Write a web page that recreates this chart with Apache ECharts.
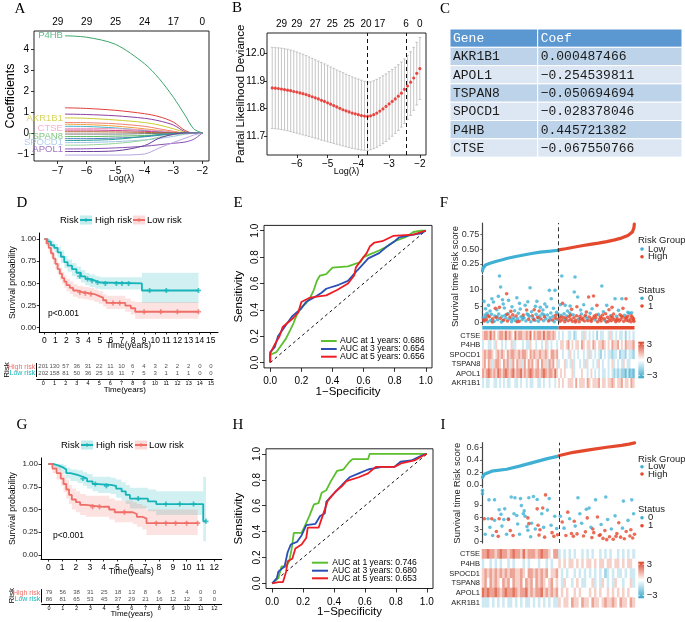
<!DOCTYPE html>
<html><head><meta charset="utf-8">
<script src="https://cdn.jsdelivr.net/npm/echarts@6.0.0/dist/echarts.min.js"></script>
<style>html,body{margin:0;padding:0;background:#fff;}#chart{width:685px;height:622px;}</style>
</head><body><div id="chart"></div>
<script>
// ====================== DATA ======================
// A: LASSO coefficient paths (values read at these log(lambda) knots)
const lassoLambda = [-6.75,-6,-5,-4,-3.5,-3,-2.6,-2.3,-2];
const lassoPaths = [
  [4.63,4.56,4.22,3.3,2.6,1.7,0.85,0.2,0],
  [1.2,1.17,1.08,0.92,0.78,0.52,0.12,0,0],
  [0.9,0.88,0.82,0.7,0.58,0.38,0.06,0,0],
  [0.72,0.7,0.62,0.5,0.38,0.2,0.04,0,0],
  [0.5,0.49,0.44,0.32,0.2,0.08,0,0,0],
  [0.42,0.4,0.33,0.2,0.12,0.05,0,0,0],
  [0.32,0.31,0.24,0.12,0.06,0.02,0,0,0],
  [0.22,0.22,0.2,0.15,0.1,0.04,0.01,0,0],
  [0.14,0.14,0.12,0.08,0.04,0.01,0,0,0],
  [0.06,0.06,0.05,0.03,0.01,0,0,0,0],
  [-0.05,-0.05,-0.05,-0.03,-0.02,-0.01,0,0,0],
  [-0.17,-0.17,-0.15,-0.12,-0.08,-0.05,-0.03,-0.01,0],
  [-0.27,-0.27,-0.24,-0.18,-0.11,-0.05,-0.01,0,0],
  [-0.36,-0.35,-0.3,-0.16,-0.08,-0.03,0,0,0],
  [-0.46,-0.45,-0.41,-0.33,-0.26,-0.16,-0.06,-0.02,0],
  [-0.58,-0.57,-0.5,-0.35,-0.2,-0.08,-0.02,0,0],
  [-0.76,-0.75,-0.71,-0.63,-0.56,-0.49,-0.43,-0.3,0],
  [-0.88,-0.88,-0.85,-0.6,-0.25,-0.06,0,0,0],
  [-1.05,-1.05,-1.05,-1.0,-0.72,-0.45,-0.25,-0.1,0]
];
const lassoGeneLabels = ['P4HB','','','AKR1B1','','','','CTSE','','','','TSPAN8','','','SPOCD1','','APOL1','',''];
const lassoTicksX = [-7,-6,-5,-4,-3,-2];
const lassoTicksY = [-1,0,1,2,3,4];
const lassoTopLambda = [-7,-6,-5,-4,-3,-2];
const lassoTopCounts = ['29','29','25','24','17','0'];

// B: cross-validation curve
const cvLambda = [-6.8,-6.7,-6.6,-6.5,-6.4,-6.3,-6.2,-6.1,-6.0,-5.9,-5.8,-5.7,-5.6,-5.5,-5.4,-5.3,-5.2,-5.1,-5.0,-4.9,-4.8,-4.7,-4.6,-4.5,-4.4,-4.3,-4.2,-4.1,-4.0,-3.9,-3.8,-3.7,-3.6,-3.5,-3.4,-3.3,-3.2,-3.1,-3.0,-2.9,-2.8,-2.7,-2.6,-2.5,-2.4,-2.3,-2.2,-2.1,-2.0];
const cvMean = [11.875,11.874,11.873,11.871,11.869,11.867,11.865,11.862,11.86,11.857,
  11.854,11.851,11.847,11.843,11.839,11.835,11.83,11.826,11.821,11.816,
  11.811,11.806,11.801,11.796,11.792,11.788,11.784,11.781,11.778,11.775,
  11.773,11.772,11.774,11.778,11.784,11.791,11.799,11.808,11.817,11.826,
  11.835,11.845,11.856,11.87,11.882,11.896,11.911,11.928,11.945];
const cvUpper = [12.022,12.021,12.02,12.019,12.017,12.015,12.012,12.009,12.005,12.001,
  11.997,11.992,11.987,11.982,11.977,11.972,11.967,11.962,11.957,11.951,
  11.946,11.94,11.935,11.93,11.925,11.92,11.915,11.911,11.907,11.903,
  11.899,11.896,11.897,11.901,11.906,11.912,11.919,11.926,11.934,11.942,
  11.95,11.959,11.969,11.98,11.992,12.006,12.022,12.04,12.058];
const cvLower = [11.728,11.727,11.726,11.724,11.722,11.72,11.717,11.714,11.711,11.708,
  11.705,11.702,11.699,11.696,11.693,11.69,11.686,11.683,11.68,11.677,
  11.674,11.671,11.668,11.665,11.662,11.659,11.656,11.654,11.652,11.65,
  11.649,11.648,11.651,11.655,11.66,11.666,11.673,11.681,11.69,11.7,
  11.71,11.721,11.733,11.746,11.76,11.776,11.794,11.813,11.833];
const cvCutoffs = [-3.7,-2.45];
const cvTicksX = [-6,-5,-4,-3,-2];
const cvTicksY = [11.7,11.8,11.9,12.0];
const cvTopLambda = [-6.5,-6,-5.4,-4.85,-4.3,-3.75,-3.3,-2.45,-2.0];
const cvTopCounts = ['29','29','27','25','25','20','17','6','0'];

// C: coefficient table
const coefHeader = ['Gene','Coef'];
const coefGenes = ['AKR1B1','APOL1','TSPAN8','SPOCD1','P4HB','CTSE'];
const coefValues = ['0.000487466','\u22120.254539811','\u22120.050694694','\u22120.028378046','0.445721382','\u22120.067550766'];

// D / G: Kaplan-Meier (train / test)
const kmGroupNames = ['High risk','Low risk'];
const kmD_teal = [[0,1],[0.3,0.97],[0.6,0.93],[0.9,0.9],[1.2,0.85],[1.5,0.8],[1.8,0.74],[2.1,0.7],[2.5,0.66],[2.9,0.62],[3.3,0.58],[3.7,0.55],[4.1,0.53],[4.6,0.51],[5.0,0.5],[8.8,0.42],[13.9,0.42]];
const kmD_tealUp = [[0,1],[0.3,1],[0.6,0.98],[0.9,0.95],[1.2,0.91],[1.5,0.87],[1.8,0.81],[2.1,0.77],[2.5,0.73],[2.9,0.69],[3.3,0.65],[3.7,0.62],[4.1,0.6],[4.6,0.58],[5.0,0.57],[8.8,0.62],[13.9,0.62]];
const kmD_tealLo = [[0,1],[0.3,0.94],[0.6,0.89],[0.9,0.85],[1.2,0.79],[1.5,0.73],[1.8,0.67],[2.1,0.63],[2.5,0.58],[2.9,0.55],[3.3,0.51],[3.7,0.48],[4.1,0.46],[4.6,0.44],[5.0,0.43],[8.8,0.28],[13.9,0.28]];
const kmD_salmon = [[0,1],[0.2,0.95],[0.4,0.9],[0.6,0.84],[0.8,0.78],[1.0,0.72],[1.2,0.66],[1.4,0.61],[1.6,0.56],[1.8,0.52],[2.0,0.48],[2.3,0.45],[2.6,0.42],[3.0,0.4],[3.5,0.39],[4.0,0.38],[4.5,0.36],[4.9,0.34],[5.3,0.31],[5.6,0.28],[7.3,0.25],[7.8,0.22],[8.2,0.18],[13.9,0.18]];
const kmD_salmonUp = [[0,1],[0.2,0.98],[0.4,0.94],[0.6,0.89],[0.8,0.84],[1.0,0.78],[1.2,0.73],[1.4,0.68],[1.6,0.63],[1.8,0.59],[2.0,0.55],[2.3,0.52],[2.6,0.49],[3.0,0.47],[3.5,0.46],[4.0,0.45],[4.5,0.43],[4.9,0.41],[5.3,0.38],[5.6,0.36],[7.3,0.33],[7.8,0.3],[8.2,0.29],[13.9,0.29]];
const kmD_salmonLo = [[0,1],[0.2,0.92],[0.4,0.86],[0.6,0.79],[0.8,0.72],[1.0,0.66],[1.2,0.6],[1.4,0.54],[1.6,0.49],[1.8,0.45],[2.0,0.41],[2.3,0.38],[2.6,0.35],[3.0,0.33],[3.5,0.32],[4.0,0.31],[4.5,0.29],[4.9,0.27],[5.3,0.24],[5.6,0.21],[7.3,0.18],[7.8,0.15],[8.2,0.1],[13.9,0.1]];
const kmD_tealCens = [[3.2,0.58],[3.9,0.55],[4.3,0.53],[4.8,0.51],[5.5,0.5],[6.5,0.5],[7.0,0.5],[7.6,0.5],[9.5,0.42],[11,0.42],[13.9,0.42]];
const kmD_salmonCens = [[3.2,0.4],[3.7,0.39],[4.2,0.38],[6.2,0.28],[6.8,0.28],[9,0.18],[10.5,0.18],[12,0.18],[13.9,0.18]];

const kmG_teal = [[0,1],[0.4,0.98],[0.8,0.96],[1.1,0.94],[1.3,0.9],[1.6,0.88],[2.1,0.86],[2.5,0.84],[2.8,0.81],[3.2,0.78],[3.6,0.77],[4.5,0.76],[4.9,0.73],[5.3,0.7],[5.6,0.66],[5.9,0.62],[7.2,0.59],[7.8,0.56],[11.2,0.37],[11.4,0.37]];
const kmG_tealUp = [[0,1],[0.4,1],[0.8,1],[1.1,0.99],[1.3,0.96],[1.6,0.94],[2.1,0.93],[2.5,0.91],[2.8,0.89],[3.2,0.86],[3.6,0.86],[4.5,0.85],[4.9,0.83],[5.3,0.8],[5.6,0.77],[5.9,0.74],[7.2,0.72],[7.8,0.7],[11.2,0.86],[11.4,0.86]];
const kmG_tealLo = [[0,1],[0.4,0.95],[0.8,0.92],[1.1,0.89],[1.3,0.84],[1.6,0.81],[2.1,0.79],[2.5,0.76],[2.8,0.73],[3.2,0.7],[3.6,0.68],[4.5,0.67],[4.9,0.63],[5.3,0.6],[5.6,0.56],[5.9,0.51],[7.2,0.48],[7.8,0.44],[11.2,0.15],[11.4,0.15]];
const kmG_salmon = [[0,1],[0.3,0.95],[0.6,0.9],[0.9,0.84],[1.1,0.78],[1.3,0.72],[1.5,0.66],[1.7,0.61],[2.0,0.58],[2.3,0.55],[2.7,0.53],[4.0,0.53],[4.4,0.5],[4.8,0.47],[6.1,0.45],[6.4,0.42],[6.8,0.4],[7.1,0.35],[10.8,0.35]];
const kmG_salmonUp = [[0,1],[0.3,1],[0.6,0.97],[0.9,0.92],[1.1,0.88],[1.3,0.83],[1.5,0.77],[1.7,0.73],[2.0,0.7],[2.3,0.67],[2.7,0.65],[4.0,0.65],[4.4,0.62],[4.8,0.6],[6.1,0.58],[6.4,0.56],[6.8,0.54],[7.1,0.5],[10.8,0.5]];
const kmG_salmonLo = [[0,1],[0.3,0.9],[0.6,0.83],[0.9,0.76],[1.1,0.69],[1.3,0.62],[1.5,0.56],[1.7,0.5],[2.0,0.47],[2.3,0.44],[2.7,0.42],[4.0,0.42],[4.4,0.39],[4.8,0.36],[6.1,0.34],[6.4,0.31],[6.8,0.28],[7.1,0.22],[10.8,0.22]];
const kmG_tealCens = [[2.5,0.84],[3.4,0.78],[4.2,0.76],[6.5,0.62],[8.5,0.56],[9.5,0.56],[10.5,0.56],[11.4,0.37]];
const kmG_salmonCens = [[3.2,0.53],[3.7,0.53],[5.5,0.47],[7.8,0.35],[8.5,0.35],[9.2,0.35],[10,0.35],[10.8,0.35]];
const kmTicksY = [0,0.25,0.5,0.75,1];
const kmTicksD = [0,1,2,3,4,5,6,7,8,9,10,11,12,13,14,15];
const kmTicksG = [0,1,2,3,4,5,6,7,8,9,10,11,12];
const pValueText = 'p<0.001';

// risk tables
const riskRowNames = ['Low risk','High risk'];
const riskTimesD = [0,1,2,3,4,5,6,7,8,9,10,11,12,13,14,15];
const riskHighD = [201,130,57,36,31,22,11,10,6,4,3,2,2,2,0,0];
const riskLowD  = [202,158,81,50,36,25,16,11,7,5,3,1,1,1,0,0];
const riskTimesG = [0,1,2,3,4,5,6,7,8,9,10,11,12];
const riskHighG = [79,56,38,31,25,18,13,8,6,5,4,0,0];
const riskLowG  = [86,81,65,53,45,37,29,21,16,12,12,3,0];

// E / H: time-dependent ROC
const rocYears = [1,3,5];
const aucE = [0.686,0.654,0.656];
const aucH = [0.746,0.680,0.653];
const rocTicks = [0,0.2,0.4,0.6,0.8,1];
const rocE1 = [[0,0],[0,0.06],[0.04,0.08],[0.07,0.13],[0.1,0.18],[0.13,0.25],[0.15,0.3],[0.17,0.36],[0.2,0.42],[0.23,0.45],[0.26,0.5],[0.28,0.55],[0.3,0.62],[0.32,0.66],[0.36,0.67],[0.4,0.72],[0.5,0.73],[0.55,0.75],[0.58,0.76],[0.6,0.8],[0.64,0.82],[0.7,0.85],[0.75,0.88],[0.8,0.92],[0.87,0.95],[0.92,0.99],[0.97,1],[1,1]];
const rocE3 = [[0,0],[0,0.08],[0.03,0.12],[0.05,0.2],[0.08,0.25],[0.11,0.3],[0.14,0.35],[0.2,0.41],[0.23,0.46],[0.29,0.5],[0.33,0.53],[0.36,0.56],[0.44,0.59],[0.5,0.62],[0.53,0.66],[0.56,0.7],[0.6,0.75],[0.63,0.79],[0.7,0.83],[0.75,0.88],[0.8,0.92],[0.83,0.95],[0.92,0.97],[0.97,0.98],[1,1]];
const rocE5 = [[0,0],[0,0.07],[0.03,0.14],[0.06,0.2],[0.08,0.27],[0.12,0.31],[0.15,0.34],[0.18,0.38],[0.2,0.46],[0.25,0.49],[0.3,0.5],[0.36,0.51],[0.43,0.55],[0.5,0.6],[0.54,0.66],[0.55,0.72],[0.58,0.77],[0.62,0.83],[0.64,0.88],[0.67,0.91],[0.72,0.92],[0.79,0.96],[0.92,0.97],[0.97,0.99],[1,1]];
const rocH1 = [[0,0],[0.04,0.04],[0.06,0.13],[0.09,0.13],[0.11,0.17],[0.125,0.26],[0.14,0.39],[0.19,0.39],[0.21,0.44],[0.24,0.52],[0.27,0.61],[0.3,0.62],[0.32,0.7],[0.35,0.72],[0.38,0.79],[0.42,0.87],[0.46,0.88],[0.5,0.94],[0.52,0.96],[0.62,0.96],[0.63,1],[1,1]];
const rocH3 = [[0,0],[0.03,0.04],[0.04,0.09],[0.08,0.13],[0.1,0.24],[0.12,0.3],[0.16,0.32],[0.19,0.37],[0.22,0.45],[0.28,0.46],[0.31,0.52],[0.34,0.54],[0.35,0.63],[0.38,0.67],[0.42,0.72],[0.46,0.77],[0.5,0.82],[0.56,0.85],[0.62,0.88],[0.71,0.9],[0.79,0.9],[0.83,0.94],[0.9,0.95],[0.97,0.99],[1,1]];
const rocH5 = [[0,0],[0.04,0.01],[0.07,0.01],[0.09,0.09],[0.1,0.17],[0.13,0.19],[0.15,0.27],[0.19,0.3],[0.22,0.35],[0.23,0.43],[0.3,0.43],[0.32,0.5],[0.34,0.57],[0.36,0.64],[0.41,0.71],[0.45,0.75],[0.48,0.79],[0.56,0.82],[0.62,0.85],[0.67,0.9],[0.79,0.9],[0.84,0.93],[0.92,0.95],[0.98,0.99],[1,1]];

// F / I: risk score, survival status, heatmap
const riskGroupNames = ['Low','High'];
const statusNames = ['0','1'];
const heatGenes = ['CTSE','P4HB','SPOCD1','TSPAN8','APOL1','AKR1B1'];
const nLowF = 202, nHighF = 201;
const scoreLowF = [[0,0.13],[1,0.17],[3,0.2],[8,0.23],[20,0.26],[35,0.29],[50,0.315],[64,0.34],[85,0.37],[109,0.4],[130,0.425],[153,0.447],[180,0.465],[201,0.48]];
const scoreHighF = [[202,0.485],[220,0.505],[241,0.53],[263,0.555],[285,0.58],[307,0.6],[329,0.625],[350,0.655],[365,0.68],[373,0.7],[385,0.73],[391,0.76],[397,0.79],[400,0.82],[401,0.86],[402,0.92]];
const survF = [
 [4,6.4,0],[16,5.2,0],[25,7.2,0],[29,6.2,0],[42,7.9,0],[45,14,0],[48,10.7,0],[53,6.9,0],[69,6.7,0],[78,4.8,0],[91,7.5,0],[113,5.2,0],[126,10.5,0],[144,6.4,0],[153,4.6,0],[170,4.8,0],[177,9.7,0],[182,7.2,0],[192,9.7,0],[64,8.7,1],[34,4.3,1],[45,4.6,1],[117,3.8,1],
 [8,4.2,0],[20,3.5,0],[38,3.9,0],[58,4.4,0],[85,3.6,0],[100,4.1,0],[130,3.3,0],[160,3.8,0],[188,4.3,0],[196,3.1,0],[55,5.6,0],[98,5.8,0],[140,4.9,0],[165,5.6,0],[120,6.3,0],[137,3.9,1],[75,3.4,1],[150,3.5,1],
 [2,1.5,0],[5,0.5,1],[7,2.3,0],[10,1.0,1],[12,2.8,0],[14,0.3,0],[18,1.8,1],[22,0.7,0],[24,2.5,0],[27,1.2,1],[31,0.4,0],[33,2.0,0],[36,1.6,1],[40,0.9,0],[43,2.6,0],[47,1.3,1],[50,0.2,0],[52,1.9,0],[56,0.8,1],[60,2.2,0],[62,1.4,0],[66,0.5,1],[68,2.7,0],[71,1.1,0],[73,1.7,1],[77,0.3,0],[80,2.4,1],[83,1.5,0],[87,0.6,0],[89,2.0,1],[93,1.2,0],[95,2.8,0],[97,0.4,1],[102,1.8,0],[105,0.9,0],[108,2.3,1],[110,1.4,0],[115,0.5,0],[118,2.6,0],[122,1.0,1],[124,1.9,0],[128,0.3,0],[132,2.1,1],[134,1.3,0],[139,0.7,0],[142,2.5,0],[146,1.6,1],[148,0.4,0],[152,2.0,0],[155,1.1,1],[158,2.7,0],[162,0.6,0],[164,1.8,1],[168,1.2,0],[172,2.3,0],[175,0.5,1],[179,1.5,0],[181,2.9,0],[185,0.8,1],[187,1.9,0],[190,0.3,0],[194,2.2,1],[198,1.0,0],[200,2.6,0],
 [3,0.9,1],[9,1.7,0],[15,2.1,1],[26,0.2,1],[39,1.8,0],[54,0.6,0],[65,2.5,1],[79,1.0,0],[92,0.3,1],[107,1.6,0],[121,2.4,0],[136,0.9,1],[149,1.4,0],[163,2.4,0],[178,0.8,0],[193,1.3,1],
 [210,14,0],[245,13.7,0],[243,9.2,0],[316,11,0],[252,7.7,0],[219,5.2,0],[232,5,0],[268,5.4,0],[351,7.2,0],[369,7.2,0],[206,5.4,0],[329,5.2,0],[281,7.7,1],[294,8,1],[380,7.2,1],[250,4.8,1],[343,4.6,1],[303,5.2,1],[225,3.5,0],[260,3.8,0],[290,4.2,0],[320,3.3,0],[360,3.7,0],[385,3.1,0],[236,4.0,1],[275,3.2,1],[335,3.9,1],[372,4.3,1],[212,5.8,1],[395,3.0,0],
 [203,1.2,1],[205,0.4,1],[208,2.2,0],[211,0.8,1],[214,1.6,1],[216,2.7,0],[218,0.3,1],[221,1.3,1],[223,2.0,0],[227,0.6,1],[229,1.8,1],[231,2.9,0],[234,1.0,1],[238,0.4,1],[240,2.4,0],[242,1.5,1],[247,0.7,1],[249,2.1,1],[254,1.1,0],[256,0.3,1],[258,1.9,1],[262,2.6,0],[264,0.9,1],[266,1.4,1],[270,0.5,1],[272,2.2,1],[277,1.2,0],[279,0.6,1],[283,1.7,1],[285,2.8,0],[288,0.4,1],[292,1.3,1],[296,2.0,1],[298,0.8,0],[300,1.5,1],[305,0.3,1],[307,2.5,0],[310,1.0,1],[312,1.8,1],[314,0.5,1],[318,2.3,1],[322,1.2,1],[324,0.7,0],[326,2.7,1],[331,1.6,1],[333,0.4,1],[337,1.1,1],[339,2.1,0],[341,0.6,1],[345,1.4,1],[347,2.6,1],[349,0.9,1],[353,0.3,1],[355,1.9,0],[357,1.2,1],[362,0.5,1],[364,2.4,1],[366,1.0,1],[370,1.7,1],[374,0.4,1],[376,2.2,0],[378,1.3,1],[382,0.7,1],[384,1.9,1],[387,0.5,1],[389,2.8,0],[391,1.1,1],[393,0.3,1],[397,1.6,1],[399,0.8,1],[401,0.4,1],
 [207,1.7,1],[220,0.9,0],[233,2.3,1],[246,0.2,1],[259,1.2,1],[274,1.8,0],[287,0.9,1],[301,2.3,1],[315,1.3,1],[328,0.2,1],[342,1.9,1],[356,0.7,1],[368,2.0,1],[381,1.5,1],[394,2.1,1],[400,1.2,1]
];
const survTicksF = [0,5,10];
const scoreTicksF = [0.25,0.5,0.75];
// heatmap rows: one digit per column, 0..8 -> z-score (digit-4)*0.75
const heatF = [
 '5665756456 6575654756 6556574656 6575665654 3434433423 4435343434 2433443534 3433424343',
 '3443343544 3434453344 4343354434 4345343443 4554564545 5465455465 4556545465 5645465556',
 '5656654565 6546566556 5665465655 6556546656 4434435434 3443435343 4324343323 3423324332',
 '5646535665 4656356465 5364656456 4655365645 3445343534 4343534434 3543443453 4343543344',
 '6567656576 5676567566 7565676566 5676566575 4545444534 4454434543 4343343432 3232213121',
 '3433443343 4343344334 3443433443 3434434434 5454455546 4555465455 5645545565 4556455465'
];
const nLowI = 83, nHighI = 82;
const scoreLowI = [[0,0.12],[1,0.14],[2,0.17],[4,0.2],[10,0.22],[26,0.25],[40,0.3],[55,0.36],[70,0.42],[82,0.46]];
const scoreHighI = [[83,0.47],[98,0.52],[115,0.56],[134,0.6],[150,0.63],[158,0.65],[164,0.67]];
const survI = [
 [0,12.5,0],[0,11.7,0],[7,10.2,0],[13,10.2,0],[31,10.9,0],[35,10.7,0],[41,10.5,0],[50,10.7,0],[55,11,0],[59,10.3,0],[72,10.5,0],[68,11.4,1],[18,7.8,0],[24,8,0],[20,6.7,0],[6,5.6,0],[13,5.2,0],[23,5.4,0],[28,5.6,0],[34,6.8,0],[37,6.4,0],[42,8.8,0],[44,6.8,0],[49,2.8,0],[2,5.6,1],[10,5.6,1],[18,5.6,1],[28,5.4,1],[49,5.8,1],[59,8,1],[50,4.4,1],[60,4,1],[62,2.9,1],
 [3,1.8,0],[8,3.5,0],[11,1.5,0],[15,2.5,1],[17,1.3,1],[21,3.8,0],[26,1.8,0],[30,2.7,1],[33,1.5,1],[38,4.3,0],[40,1.8,0],[46,6.2,0],[48,3.7,0],[52,1.2,0],[53,4.5,0],[57,3.1,0],[61,1.6,1],[64,6.8,0],[66,3.5,0],[67,1.1,1],[70,7.7,0],[74,4.0,0],[75,2.2,1],[77,1.3,1],[78,6.2,0],[80,3.2,0],[81,1.7,1],[65,8.2,1],[45,7.5,0],
 [103,10.7,0],[122,10.2,0],[133,10.9,0],[152,9.9,0],[161,10.2,0],[84,6.2,0],[86,4.8,1],[88,3.3,0],[90,1.5,1],[92,7.2,1],[94,5.6,0],[96,2.0,1],[98,1.3,1],[100,3.8,0],[102,1.9,1],[105,6.8,0],[107,4.5,0],[109,1.4,1],[111,2.4,1],[113,5.8,1],[115,8.2,0],[117,3.5,0],[118,1.0,1],[120,2.2,1],[124,6.0,1],[126,1.5,1],[128,4.2,0],[130,0.8,1],[132,2.7,1],[135,5.4,0],[137,1.2,1],[139,3.1,0],[141,0.6,1],[143,6.3,0],[145,2.0,1],[147,4.6,1],[149,1.1,1],[151,3.3,0],[153,0.7,1],[155,2.5,1],[157,5.2,0],[159,1.4,1],[160,2.9,1],[162,0.9,1],[163,6.8,0],[164,1.8,1],[127,1.7,1],[134,0.5,1],[119,3.1,1],[144,1.3,1],[99,5.0,1],[112,7.9,0]
];
const survTicksI = [0,3,6,9];
const scoreTicksI = [0,0.2,0.4,0.6];
const heatI = [
 '6676656766 5676657566 6567665466 3434343443 4343443434 3443434343',
 '3443434344 3434443434 4434434344 5454554545 4554545545 5455454554',
 '5656565656 5665565466 5656564556 4343443434 3434343423 4343343433',
 '5646565465 6465564656 4656545645 4354434543 3445343543 4354434453',
 '7676676567 6676566756 5667565656 4545445454 4454545445 4545454544',
 '3334343434 3343434334 3434343433 5455465546 5546554565 5654655465'
];
const heatLegendTicks = ['3','0','\u22123'];

// ====================== STYLE ======================
const FONT = '"Liberation Sans", Arial, Helvetica, sans-serif';
const SERIF = '"Liberation Serif", "Times New Roman", serif';
const MONO = '"Liberation Mono", "DejaVu Sans Mono", monospace';
const lassoColors = ['#3aa66a','#e0403a','#8e3fa0','#cccc30','#f07f6f','#f0a040','#3fb5c8','#f29bc4','#d0408c','#b0652f','#777777','#5cb85c','#4a78c0','#2aa198','#9fc3e6','#9ad29a','#8a50b5','#6a3d9a','#b9a6e0'];
const TEAL = '#14b4b9', SALMON = '#ef6f68';
const BLUE = '#3fb0d4', RED = '#e4492e';
const ROCC = ['#5cbf2d','#2a4fb5','#ee1d23'];
const HEAT = ['#3aa8cc','#ffffff','#da4529'];

// ====================== BUILD ======================
const grids=[], xAxis=[], yAxis=[], series=[], gfx=[];
function merge(a,b){for(const k in b){const v=b[k];if(v&&typeof v==='object'&&!Array.isArray(v)&&typeof v!=='function'&&a[k]&&typeof a[k]==='object'&&!Array.isArray(a[k]))merge(a[k],v);else a[k]=v;}return a;}
function grid(o){grids.push(Object.assign({outerBoundsMode:'none',containLabel:false},o));return grids.length-1;}
function ax(list,gi,o){const base={type:'value',gridIndex:gi,splitLine:{show:false},splitArea:{show:false},axisLine:{show:false,onZero:false},axisTick:{show:false},axisLabel:{show:false},nameMoveOverlap:false,nameTextStyle:{fontFamily:FONT,color:'#000'}};list.push(merge(base,o));return list.length-1;}
function tk(vals,len,col){return {show:true,customValues:vals,length:len||3,inside:false,lineStyle:{color:col||'#000',width:0.8}};}
function lb(vals,fmt,fs,margin,extra){return Object.assign({show:true,customValues:vals,formatter:fmt,fontSize:fs,margin:margin,color:'#000',fontFamily:FONT},extra||{});}
function nearestIdx(arr,v){let b=0;for(let i=1;i<arr.length;i++)if(Math.abs(arr[i]-v)<Math.abs(arr[b]-v))b=i;return b;}
const mns = v => String(v).replace('-','\u2212');
function txt(x,y,s,o){gfx.push({type:'text',x:x,y:y,silent:true,style:Object.assign({text:s,fill:'#000',fontSize:10,fontFamily:FONT,align:'left',verticalAlign:'middle'},o||{})});}
function gline(x1,y1,x2,y2,c,w){gfx.push({type:'line',silent:true,shape:{x1,y1,x2,y2},style:{stroke:c,lineWidth:w||1}});}

// panel letters
[['A',20,9],['B',237,8],['C',445,9],['D',22,203],['E',238,203],['F',444,203],['G',22,425],['H',238,425],['I',443,425]]
  .forEach(p=>txt(p[1],p[2],p[0],{fontFamily:SERIF,fontSize:15,align:'center'}));

// ---------- A ----------
const gA = grid({left:34,top:31,width:175,height:130,show:true,borderColor:'#222',borderWidth:1,backgroundColor:'rgba(0,0,0,0)'});
const xA = ax(xAxis,gA,{min:-7.82,max:-1.77,name:'Log(\u03bb)',nameLocation:'middle',nameGap:13,nameTextStyle:{fontSize:9},axisTick:tk(lassoTicksX),axisLabel:lb(lassoTicksX,mns,10,5)});
ax(xAxis,gA,{position:'top',min:-7.82,max:-1.77,axisLabel:lb(lassoTopLambda,v=>lassoTopCounts[nearestIdx(lassoTopLambda,v)],10,4)});
const yA = ax(yAxis,gA,{min:-1.333,max:4.857,name:'Coefficients',nameLocation:'middle',nameRotate:90,nameGap:17,nameTextStyle:{fontSize:12.5},axisTick:tk(lassoTicksY),axisLabel:lb(lassoTicksY,mns,10,5)});
lassoPaths.forEach((vals,k)=>series.push({type:'line',xAxisIndex:xA,yAxisIndex:yA,smooth:0.3,symbol:'none',silent:true,z:k===0?4:3,lineStyle:{width:1,color:lassoColors[k]},data:vals.map((v,i)=>[lassoLambda[i],v])}));
series.push({type:'scatter',xAxisIndex:xA,yAxisIndex:yA,symbolSize:0,silent:true,z:5,
  data:lassoPaths.map((v,k)=>({value:[lassoLambda[0],v[0]],name:lassoGeneLabels[k],label:{color:lassoColors[k]}})).filter(d=>d.name),
  label:{show:true,position:'left',distance:2,formatter:p=>p.name,fontSize:9.5,fontFamily:FONT}});

// ---------- B ----------
const gB = grid({left:267,top:33,width:159,height:122,show:true,borderColor:'#222',borderWidth:1,backgroundColor:'rgba(0,0,0,0)'});
const xB = ax(xAxis,gB,{min:-6.97,max:-1.8,name:'Log(\u03bb)',nameLocation:'middle',nameGap:12,nameTextStyle:{fontSize:9},axisTick:tk(cvTicksX),axisLabel:lb(cvTicksX,mns,10,4)});
ax(xAxis,gB,{position:'top',min:-6.97,max:-1.8,axisLabel:lb(cvTopLambda,v=>cvTopCounts[nearestIdx(cvTopLambda,v)],10,4)});
const yB = ax(yAxis,gB,{min:11.632,max:12.074,name:'Partial Likelihood Deviance',nameLocation:'middle',nameRotate:90,nameGap:20,nameTextStyle:{fontSize:11.5},axisTick:tk(cvTicksY),axisLabel:lb(cvTicksY,v=>v.toFixed(1),10,2)});
series.push({type:'custom',xAxisIndex:xB,yAxisIndex:yB,silent:true,z:2,
  data:cvLambda.map((x,i)=>[x,cvLower[i],cvUpper[i]]),encode:{x:0,y:[1,2]},
  renderItem:(p,api)=>{const x=api.value(0);const a=api.coord([x,api.value(2)]);const b=api.coord([x,api.value(1)]);const st={stroke:'#b8b8b8',lineWidth:0.8};
    return {type:'group',children:[{type:'line',shape:{x1:a[0],y1:a[1],x2:b[0],y2:b[1]},style:st},{type:'line',shape:{x1:a[0]-1.3,y1:a[1],x2:a[0]+1.3,y2:a[1]},style:st},{type:'line',shape:{x1:b[0]-1.3,y1:b[1],x2:b[0]+1.3,y2:b[1]},style:st}]};}});
series.push({type:'scatter',xAxisIndex:xB,yAxisIndex:yB,symbolSize:3.2,silent:true,z:4,itemStyle:{color:'#e8201a'},
  data:cvLambda.map((x,i)=>[x,cvMean[i]]),
  markLine:{silent:true,symbol:['none','none'],label:{show:false},lineStyle:{type:[4,3],color:'#111',width:1},data:cvCutoffs.map(x=>({xAxis:x}))}});

// ---------- C (table) ----------
(function(){
  const x0=450,y0=29,w1=87.7,w2=144.3,h=18.3;
  const rect=(x,y,w,hh,fill)=>gfx.push({type:'rect',silent:true,shape:{x:x,y:y,width:w,height:hh},style:{fill:fill,stroke:'#ffffff',lineWidth:1}});
  rect(x0,y0,w1,h,'#5b97d0'); rect(x0+w1,y0,w2,h,'#5b97d0');
  txt(x0+3,y0+h/2+0.5,coefHeader[0],{fill:'#fff',fontFamily:MONO,fontSize:13});
  txt(x0+w1+3,y0+h/2+0.5,coefHeader[1],{fill:'#fff',fontFamily:MONO,fontSize:13});
  coefGenes.forEach((g,i)=>{const y=y0+h*(i+1);const f=i%2===0?'#bcd3ea':'#dde7f3';
    rect(x0,y,w1,h,f); rect(x0+w1,y,w2,h,f);
    txt(x0+3,y+h/2+0.5,g,{fill:'#1a1a1a',fontFamily:MONO,fontSize:13});
    txt(x0+w1+3,y+h/2+0.5,coefValues[i],{fill:'#1a1a1a',fontFamily:MONO,fontSize:13});});
})();

// ---------- helpers for KM ----------
function band(xi,yi,up,lo,color){
  series.push({type:'custom',xAxisIndex:xi,yAxisIndex:yi,silent:true,z:1,data:[[up[0][0],up[0][1]]],encode:{x:0,y:1},
    renderItem:(p,api)=>{const pts=[];
      for(let i=0;i<up.length;i++){if(i>0)pts.push(api.coord([up[i][0],up[i-1][1]]));pts.push(api.coord(up[i]));}
      for(let i=lo.length-1;i>=0;i--){pts.push(api.coord(lo[i]));if(i>0)pts.push(api.coord([lo[i][0],lo[i-1][1]]));}
      return {type:'polygon',shape:{points:pts},style:{fill:color,opacity:0.2}};}});
}
const CENS='path://M2,0h2v2h2v2h-2v2h-2v-2h-2v-2h2z';
function kmCurve(xi,yi,pts,cens,color){
  series.push({type:'line',xAxisIndex:xi,yAxisIndex:yi,step:'end',symbol:'none',silent:true,z:3,lineStyle:{width:1.8,color:color},data:pts});
  series.push({type:'scatter',xAxisIndex:xi,yAxisIndex:yi,symbol:CENS,symbolSize:5,silent:true,z:4,itemStyle:{color:color},data:cens});
}
function kmKey(x,y,c){
  gfx.push({type:'rect',silent:true,shape:{x:x,y:y-4.5,width:12,height:9},style:{fill:c,opacity:0.25}});
  gline(x,y,x+12,y,c,2); gline(x+6,y-2,x+6,y+2,c,1);
}
function kmLegend(y,p){
  txt(p[0],y,'Risk',{fontSize:9.5});
  kmKey(p[1],y,TEAL); txt(p[2],y,kmGroupNames[0],{fontSize:9.5});
  kmKey(p[3],y,SALMON); txt(p[4],y,kmGroupNames[1],{fontSize:9.5});
}
function riskTable(g,xmin,xmax,offset,times,high,low,lm,ng,rg){
  const xi=ax(xAxis,g,{min:xmin,max:xmax,offset:offset,axisLine:{show:true,lineStyle:{color:'#000',width:1}},axisTick:tk(times,1.5),axisLabel:lb(times,v=>String(v),5.5,lm),name:'Time(years)',nameLocation:'middle',nameGap:ng,nameTextStyle:{fontSize:8}});
  const yi=ax(yAxis,g,{type:'category',data:riskRowNames,axisLine:{show:true,lineStyle:{color:'#000',width:1}},name:'Risk',nameLocation:'middle',nameRotate:90,nameGap:rg,nameTextStyle:{fontSize:8},
    axisLabel:{show:true,interval:0,margin:1.5,formatter:v=>v===riskRowNames[1]?'{h|'+v+'}':'{l|'+v+'}',rich:{h:{color:SALMON,fontSize:7,fontFamily:FONT},l:{color:TEAL,fontSize:7,fontFamily:FONT}}}});
  const d=[];times.forEach((t,i)=>{d.push([t,1,high[i]]);d.push([t,0,low[i]]);});
  series.push({type:'scatter',xAxisIndex:xi,yAxisIndex:yi,symbolSize:0,silent:true,data:d,label:{show:true,position:'inside',formatter:p=>String(p.value[2]),fontSize:6,color:'#222',fontFamily:FONT}});
}

// ---------- D ----------
const gD = grid({left:39.3,top:233,width:178.7,height:99});
const xD = ax(xAxis,gD,{min:-0.451,max:15.66,axisLine:{show:true,lineStyle:{color:'#000',width:1}},axisTick:tk(kmTicksD,2.5),axisLabel:lb(kmTicksD,v=>String(v),8.5,4),name:'Time(years)',nameLocation:'middle',nameGap:9,nameTextStyle:{fontSize:8.5}});
const yD = ax(yAxis,gD,{min:-0.048,max:1.068,axisLine:{show:true,lineStyle:{color:'#000',width:1}},axisTick:tk(kmTicksY,2.5),axisLabel:lb(kmTicksY,v=>v.toFixed(2),8,3,{color:'#222'}),name:'Survival probability',nameLocation:'middle',nameRotate:90,nameGap:22,nameTextStyle:{fontSize:8.7}});
band(xD,yD,kmD_tealUp,kmD_tealLo,TEAL);
band(xD,yD,kmD_salmonUp,kmD_salmonLo,SALMON);
kmCurve(xD,yD,kmD_teal,kmD_tealCens,TEAL);
kmCurve(xD,yD,kmD_salmon,kmD_salmonCens,SALMON);
kmLegend(220,[60,80,95,133,147]);
txt(48,314,pValueText,{fontSize:8.5});
const gDt = grid({left:36.7,top:363.4,width:176.3,height:13.2});
riskTable(gDt,-0.59,15.18,2.4,riskTimesD,riskHighD,riskLowD,1.5,7,26);

// ---------- E ----------
function rocPanel(g,curves,legY,legX1,legX2,legTx,aucs,nameGapX,nameGapY){
  const xi=ax(xAxis,g,{min:-0.04,max:1.04,axisTick:tk(rocTicks,4),axisLabel:lb(rocTicks,v=>v.toFixed(1),10,8.5),name:'1\u2212Specificity',nameLocation:'middle',nameGap:nameGapX,nameTextStyle:{fontSize:11.5}});
  const yi=ax(yAxis,g,{min:-0.04,max:1.04,axisTick:tk(rocTicks,4),axisLabel:lb(rocTicks,v=>v.toFixed(1),10,4,{rotate:90}),name:'Sensitivity',nameLocation:'middle',nameRotate:90,nameGap:nameGapY,nameTextStyle:{fontSize:11.5}});
  series.push({type:'line',xAxisIndex:xi,yAxisIndex:yi,symbol:'none',silent:true,z:2,lineStyle:{type:[3,3],color:'#111',width:1},data:[[0,0],[1,1]]});
  curves.forEach((c,k)=>series.push({type:'line',xAxisIndex:xi,yAxisIndex:yi,symbol:'none',silent:true,z:3+k,lineStyle:{width:1.8,color:ROCC[k]},data:c}));
  rocYears.forEach((yr,k)=>{gline(legX1,legY[k],legX2,legY[k],ROCC[k],2);txt(legTx,legY[k],'AUC at '+yr+' years: '+aucs[k].toFixed(3),{fontSize:8.6});});
}
const gE = grid({left:264,top:225.4,width:168,height:142.5,show:true,borderColor:'#222',borderWidth:1,backgroundColor:'rgba(0,0,0,0)'});
rocPanel(gE,[rocE1,rocE3,rocE5],[341,349,356.7],321,336.7,340,aucE,18,19);

// ---------- F / I risk plots ----------
function riskPanel(cfg){
  const N=cfg.nLow+cfg.nHigh, split=cfg.nLow-0.5;
  const gs=grid({left:cfg.left,top:cfg.sTop,width:cfg.width,height:cfg.sH});
  const xs=ax(xAxis,gs,{min:-0.5,max:N-0.5});
  const ys=ax(yAxis,gs,{min:cfg.sMin,max:cfg.sMax,axisLine:{show:true,lineStyle:{color:'#444',width:1.2}},axisTick:tk(cfg.sTicks,2,'#444'),axisLabel:lb(cfg.sTicks,cfg.sFmt,9,3,{color:'#333'}),name:'Risk score',nameLocation:'middle',nameRotate:90,nameGap:cfg.nameGap,nameTextStyle:{fontSize:9.5,color:'#222'}});
  series.push({type:'line',xAxisIndex:xs,yAxisIndex:ys,symbol:'none',silent:true,lineStyle:{width:3.2,color:BLUE,cap:'round'},data:cfg.scoreLow,
    markLine:{silent:true,symbol:['none','none'],label:{show:false},lineStyle:{type:[4,3],color:'#333',width:1},data:[{xAxis:split}]}});
  series.push({type:'line',xAxisIndex:xs,yAxisIndex:ys,symbol:'none',silent:true,lineStyle:{width:3.2,color:RED,cap:'round'},data:cfg.scoreHigh});
  const gv=grid({left:cfg.left,top:cfg.vTop,width:cfg.width,height:cfg.vH});
  const xv=ax(xAxis,gv,{min:-0.5,max:N-0.5});
  const yv=ax(yAxis,gv,{min:cfg.vMin,max:cfg.vMax,axisLine:{show:true,lineStyle:{color:'#444',width:1.2}},axisTick:tk(cfg.vTicks,2,'#444'),axisLabel:lb(cfg.vTicks,v=>String(v),9,3,{color:'#333'}),name:'Survival time',nameLocation:'middle',nameRotate:90,nameGap:cfg.nameGap,nameTextStyle:{fontSize:9.5,color:'#222'}});
  [0,1].forEach(st=>series.push({type:'scatter',xAxisIndex:xv,yAxisIndex:yv,symbolSize:3.6,silent:true,itemStyle:{color:st?RED:BLUE},
    data:cfg.surv.filter(d=>d[2]===st).map(d=>[d[0],d[1]]),
    markLine:st?undefined:{silent:true,symbol:['none','none'],label:{show:false},lineStyle:{type:[4,3],color:'#333',width:1},data:[{xAxis:split}]}}));
  const gb=grid({left:cfg.left,top:cfg.bTop,width:cfg.width,height:3.4});
  const xb=ax(xAxis,gb,{min:0,max:N});
  const yb=ax(yAxis,gb,{type:'category',data:['']});
  series.push({type:'bar',xAxisIndex:xb,yAxisIndex:yb,stack:'grp',barWidth:'100%',silent:true,itemStyle:{color:BLUE},data:[cfg.nLow]});
  series.push({type:'bar',xAxisIndex:xb,yAxisIndex:yb,stack:'grp',barWidth:'100%',silent:true,itemStyle:{color:RED},data:[cfg.nHigh]});
  const rows=cfg.heat.map(s=>s.replace(/ /g,''));
  const nc=rows[0].length;
  const gh=grid({left:cfg.left,top:cfg.hTop,width:cfg.width,height:cfg.hH});
  const xh=ax(xAxis,gh,{type:'category',data:Array.from({length:nc},(_,i)=>String(i))});
  const yh=ax(yAxis,gh,{type:'category',inverse:true,data:heatGenes,axisLabel:{show:true,interval:0,fontSize:7.5,color:'#222',margin:2,fontFamily:FONT}});
  const hd=[];rows.forEach((s,r)=>{for(let i=0;i<s.length;i++)hd.push([i,r,(parseInt(s[i],10)-4)*0.75]);});
  series.push({type:'heatmap',xAxisIndex:xh,yAxisIndex:yh,silent:true,data:hd,itemStyle:{borderWidth:0}});
  const heatIdx=series.length-1;
  // legends
  const lx=cfg.legX;
  txt(lx,cfg.legY[0],'Risk Group',{fontSize:9.5,fill:'#222'});
  gfx.push({type:'circle',silent:true,shape:{cx:lx+4,cy:cfg.legY[1],r:1.8},style:{fill:BLUE}});
  txt(lx+10,cfg.legY[1],riskGroupNames[0],{fontSize:9.5,fill:'#222'});
  gfx.push({type:'circle',silent:true,shape:{cx:lx+4,cy:cfg.legY[2],r:1.8},style:{fill:RED}});
  txt(lx+10,cfg.legY[2],riskGroupNames[1],{fontSize:9.5,fill:'#222'});
  txt(lx,cfg.legY[3],'Status',{fontSize:9.5,fill:'#222'});
  gfx.push({type:'circle',silent:true,shape:{cx:lx+4,cy:cfg.legY[4],r:1.8},style:{fill:BLUE}});
  txt(lx+10,cfg.legY[4],statusNames[0],{fontSize:9.5,fill:'#222'});
  gfx.push({type:'circle',silent:true,shape:{cx:lx+4,cy:cfg.legY[5],r:1.8},style:{fill:RED}});
  txt(lx+10,cfg.legY[5],statusNames[1],{fontSize:9.5,fill:'#222'});
  // color bar
  const cb=cfg.cb;
  gfx.push({type:'rect',silent:true,shape:{x:cb[0],y:cb[1],width:5.8,height:cb[2]},style:{fill:new echarts.graphic.LinearGradient(0,0,0,1,[{offset:0,color:HEAT[2]},{offset:0.5,color:HEAT[1]},{offset:1,color:HEAT[0]}])}});
  const ty=[cb[1]+2.5,cb[1]+cb[2]/2,cb[1]+cb[2]-3];
  heatLegendTicks.forEach((t,k)=>{gline(cb[0],ty[k],cb[0]+1.5,ty[k],'#fff',0.8);gline(cb[0]+4.3,ty[k],cb[0]+5.8,ty[k],'#fff',0.8);txt(cb[0]+8.5,ty[k],t,{fontSize:9.5,fill:'#222'});});
  return heatIdx;
}
const hF = riskPanel({left:482.3,width:152.2,nLow:nLowF,nHigh:nHighF,
  sTop:223,sH:50.3,sMin:0.09,sMax:0.94,sTicks:scoreTicksF,sFmt:v=>v.toFixed(2),scoreLow:scoreLowF,scoreHigh:scoreHighF,
  vTop:275,vH:49.7,vMin:-0.6,vMax:14.3,vTicks:survTicksF,surv:survF,
  bTop:326,hTop:331,hH:56.7,heat:heatF,nameGap:22,
  legX:638,legY:[240.7,249,256.7,290,298.3,306],cb:[638.3,341.7,36.6]});

// ---------- G ----------
const gG = grid({left:41,top:458,width:180.7,height:101});
const xG = ax(xAxis,gG,{min:-0.528,max:12.535,axisLine:{show:true,lineStyle:{color:'#000',width:1}},axisTick:tk(kmTicksG,2.5),axisLabel:lb(kmTicksG,v=>String(v),8.5,4),name:'Time(years)',nameLocation:'middle',nameGap:8,nameTextStyle:{fontSize:8.5}});
const yG = ax(yAxis,gG,{min:-0.044,max:1.066,axisLine:{show:true,lineStyle:{color:'#000',width:1}},axisTick:tk(kmTicksY,2.5),axisLabel:lb(kmTicksY,v=>v.toFixed(2),8,3,{color:'#222'}),name:'Survival probability',nameLocation:'middle',nameRotate:90,nameGap:24,nameTextStyle:{fontSize:8.7}});
band(xG,yG,kmG_tealUp,kmG_tealLo,TEAL);
band(xG,yG,kmG_salmonUp,kmG_salmonLo,SALMON);
kmCurve(xG,yG,kmG_teal,kmG_tealCens,TEAL);
kmCurve(xG,yG,kmG_salmon,kmG_salmonCens,SALMON);
kmLegend(445,[61,81,96,135,149]);
txt(53,536,pValueText,{fontSize:8.5});
const gGt = grid({left:41.7,top:589.5,width:180,height:12.6});
riskTable(gGt,-0.531,12.53,2.2,riskTimesG,riskHighG,riskLowG,1.3,5.5,26);

// ---------- H ----------
const gH = grid({left:266,top:448.8,width:167,height:139.7,show:true,borderColor:'#222',borderWidth:1,backgroundColor:'rgba(0,0,0,0)'});
rocPanel(gH,[rocH1,rocH3,rocH5],[562.7,570.7,578.3],312,328,332.3,aucH,17,21);

// ---------- I ----------
const hI = riskPanel({left:482,width:153,nLow:nLowI,nHigh:nHighI,
  sTop:442.7,sH:44.6,sMin:-0.037,sMax:0.673,sTicks:scoreTicksI,sFmt:v=>v.toFixed(1),scoreLow:scoreLowI,scoreHigh:scoreHighI,
  vTop:490,vH:53,vMin:-0.32,vMax:12.6,vTicks:survTicksI,surv:survI,
  bTop:544,hTop:549.3,hH:58,heat:heatI,nameGap:20,
  legX:638,legY:[459.3,466.7,474,509.3,517.7,525.7],cb:[638.3,561.7,36.6]});

const chart = echarts.init(document.getElementById('chart'), null, {renderer:'canvas'});
chart.setOption({
  animation:false,
  backgroundColor:'#ffffff',
  textStyle:{fontFamily:FONT},
  grid:grids, xAxis:xAxis, yAxis:yAxis, series:series,
  visualMap:[{type:'continuous',show:false,min:-3,max:3,dimension:2,seriesIndex:[hF,hI],inRange:{color:HEAT}}],
  graphic:{elements:gfx}
});
</script></body></html>
